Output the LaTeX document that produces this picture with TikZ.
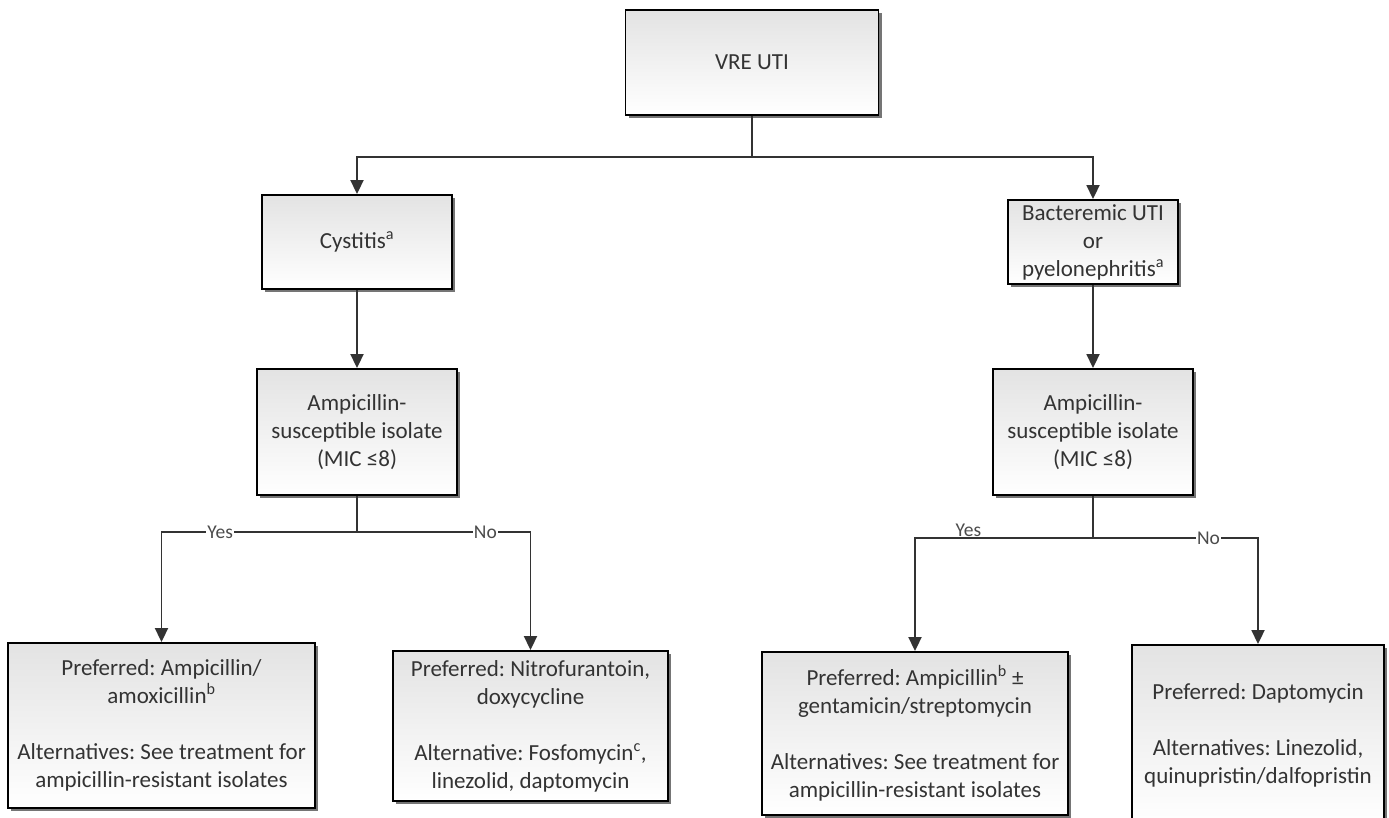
\documentclass[tikz,border=0pt]{standalone}
\usepackage{fontspec}
\setmainfont{Carlito}
\usetikzlibrary{arrows.meta,shadows}
\frenchspacing

\begin{document}
\begin{tikzpicture}[
  x=1pt, y=-1pt,
  font=\fontsize{23}{28}\selectfont,
  box/.style={draw=black, line width=1.9pt, top color=black!11, bottom color=white, text=black!80, align=center, inner sep=0pt,
    drop shadow={shadow xshift=3pt, shadow yshift=-3pt, fill=black!60, opacity=0.9}},
  line/.style={line width=1.9pt, draw=black!80},
  arr/.style={line, -{Triangle[width=13pt,length=14pt]}},
  lbl/.style={fill=white, inner sep=1pt, text=black!70, font=\fontsize{19.5}{21}\selectfont}
]
\useasboundingbox (0,0) rectangle (1389,817);

\node[box, minimum width=253pt, minimum height=105pt] (vre) at (752,62.5) {VRE UTI};
\node[box, minimum width=190pt, minimum height=94pt] (cys) at (357,242) {Cystitis\textsuperscript{a}};
\node[box, minimum width=170pt, minimum height=84pt] (bac) at (1093,242) {Bacteremic UTI\\or\\pyelonephritis\textsuperscript{a}};
\node[box, minimum width=200pt, minimum height=126pt] (ampl) at (357,432) {Ampicillin-\\susceptible isolate\\(MIC ≤8)};
\node[box, minimum width=200pt, minimum height=126pt] (ampr) at (1093,432) {Ampicillin-\\susceptible isolate\\(MIC ≤8)};

\node[box, minimum width=307pt, minimum height=165pt] (amox) at (161.5,725.5)
  {Preferred: Ampicillin/\\amoxicillin\textsuperscript{b}\\[28pt]Alternatives: See treatment for\\ampicillin-resistant isolates};
\node[box, minimum width=275pt, minimum height=150pt] (nitro) at (530.5,726)
  {Preferred: Nitrofurantoin,\\doxycycline\\[28pt]Alternative: Fosfomycin\textsuperscript{c},\\linezolid, daptomycin};
\node[box, minimum width=306pt, minimum height=163pt] (gent) at (915,733.5)
  {Preferred: Ampicillin\textsuperscript{b} ±\\gentamicin/streptomycin\\[28pt]Alternatives: See treatment for\\ampicillin-resistant isolates};
\node[box, minimum width=252pt, minimum height=180pt] (dapto) at (1258,735)
  {Preferred: Daptomycin\\[28pt]Alternatives: Linezolid,\\quinupristin/dalfopristin};

% branch points
\coordinate (j0) at (752,157);
\coordinate (jl) at (357,532);
\coordinate (jr) at (1093,538);

\draw[line] (vre) -- (j0);
\draw[arr] (j0) -| (cys);
\draw[arr] (j0) -| (bac);
\draw[arr] (cys) -- (ampl);
\draw[arr] (bac) -- (ampr);

\draw[line] (ampl) -- (jl);
\draw[arr] (jl) -| node[lbl, pos=0.35] {Yes} (amox);
\draw[arr] (jl) -| node[lbl, pos=0.37] {No} (nitro);

\draw[line] (ampr) -- (jr);
\draw[arr] (jr) -| node[lbl, pos=0.35, yshift=8pt] {Yes} (gent);
\draw[arr] (jr) -| node[lbl, pos=0.35] {No} (dapto);
\end{tikzpicture}
\end{document}
